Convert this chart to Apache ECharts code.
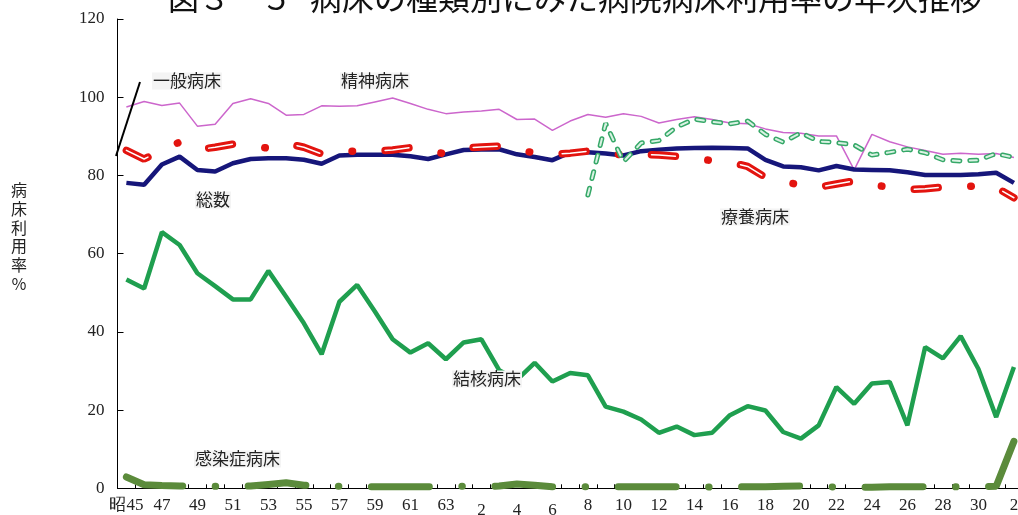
<!DOCTYPE html>
<html><head><meta charset="utf-8">
<script src="https://cdn.jsdelivr.net/npm/echarts@6/dist/echarts.min.js"></script>
<style>html,body{margin:0;padding:0;background:#fff}#c{width:1018px;height:515px}</style>
</head><body><div id="c"></div>
<script>
const categories = ['1970','1971','1972','1973','1974','1975','1976','1977','1978','1979',
  '1980','1981','1982','1983','1984','1985','1986','1987','1988','1989',
  '1990','1991','1992','1993','1994','1995','1996','1997','1998','1999',
  '2000','2001','2002','2003','2004','2005','2006','2007','2008','2009',
  '2010','2011','2012','2013','2014','2015','2016','2017','2018','2019','2020'];
const tickLabels = ['昭45','46','47','48','49','50','51','52','53','54',
  '55','56','57','58','59','60','61','62','63','元',
  '2','3','4','5','6','7','8','9','10','11',
  '12','13','14','15','16','17','18','19','20','21',
  '22','23','24','25','26','27','28','29','30','元','2'];
const loweredLabels = [20, 22, 24];

const total = [78.1,77.6,82.8,84.8,81.4,81.0,83.1,84.2,84.4,84.4,
  84.0,83.0,85.1,85.3,85.3,85.3,84.9,84.2,85.4,86.5,
  86.6,86.7,85.4,84.7,83.9,85.9,85.9,85.6,85.1,86.2,
  86.6,86.9,87.0,87.1,87.0,86.9,84.0,82.3,82.1,81.3,
  82.4,81.5,81.4,81.3,80.8,80.1,80.1,80.1,80.3,80.7,78.1];
const general = [86.4,84.2,86.5,88.5,86.6,87.2,88.0,87.5,87.0,88.2,
  87.2,85.5,86.2,86.2,86.2,86.5,87.1,86.0,85.6,87.0,
  87.3,87.5,86.5,85.8,85.4,85.7,86.2,85.8,85.2,85.4,
  85.2,84.9,84.3,83.8,83.4,82.3,79.5,78.2,77.7,77.0,
  77.8,78.6,77.6,77.0,76.4,76.6,77.0,77.1,77.3,76.9,74.3];
const psychiatric = [97.5,98.9,97.9,98.5,92.6,93.1,98.4,99.6,98.4,95.4,
  95.6,97.8,97.7,97.8,98.8,99.8,98.4,96.9,95.8,96.2,
  96.5,96.9,94.3,94.4,91.5,93.9,95.6,94.9,95.8,95.1,
  93.4,94.3,95.0,94.3,93.4,93.2,91.9,91.0,90.8,90.1,
  90.1,81.4,90.5,88.6,87.3,86.4,85.4,85.7,85.4,85.6,84.6];
const longTerm = [null,null,null,null,null,null,null,null,null,null,
  null,null,null,null,null,null,null,null,null,null,
  null,null,null,null,null,null,75.0,93.3,83.5,88.3,
  88.9,92.4,94.4,93.7,93.2,93.9,90.5,88.5,90.9,88.7,
  88.4,87.8,85.2,85.9,86.7,85.8,84.0,83.7,83.9,85.6,84.6];
const tuberculosis = [53.4,51.1,65.5,62.2,55.0,51.7,48.3,48.3,55.6,49.0,
  42.2,34.3,47.7,52.0,45.2,38.1,34.7,37.1,33.0,37.3,
  38.1,30.2,27.7,32.1,27.3,29.5,28.9,20.9,19.6,17.6,
  14.2,15.8,13.6,14.2,18.7,21.0,19.9,14.4,12.7,16.1,
  25.9,21.6,26.8,27.2,16.1,36.1,33.2,38.9,30.5,18.2,31.0];
const infectious = [2.9,0.9,0.7,0.6,0.5,0.5,0.4,0.6,1.0,1.4,
  0.8,0.5,0.5,0.4,0.4,0.4,0.4,0.4,0.5,0.5,
  0.4,0.6,1.1,0.8,0.4,0.4,0.4,0.4,0.4,0.4,
  0.4,0.4,0.4,0.3,0.3,0.4,0.4,0.5,0.6,0.5,
  0.3,0.3,0.3,0.4,0.4,0.4,0.3,0.4,0.4,0.5,12.0];

const CJK = "'Noto Sans CJK JP', 'Noto Sans', sans-serif";
const NUM = "'Liberation Serif', serif";

function label(text, x, y, size) {
  return { type: 'text', x: x, y: y, z: 50,
    style: { text: text, fontFamily: CJK, fontSize: size || 17, fill: '#222',
      align: 'left', verticalAlign: 'middle', backgroundColor: '#f4f4f4', padding: [0, 1] } };
}

const chart = echarts.init(document.getElementById('c'), null, { renderer: 'canvas' });
chart.setOption({
  animation: false,
  backgroundColor: '#fff',
  grid: { left: 117.5, top: 19, width: 905.3, height: 469.3, outerBoundsMode: 'none', containLabel: false },
  xAxis: {
    type: 'category', data: categories, boundaryGap: true,
    axisLine: { show: true, lineStyle: { color: '#000', width: 1 } },
    axisTick: { show: true, inside: true, length: 4, interval: 0, lineStyle: { color: '#000' } },
    axisLabel: {
      interval: 1, margin: 9, color: '#222', fontFamily: NUM, fontSize: 17,
      formatter: function (v, i) {
        return loweredLabels.indexOf(i) >= 0 ? '{lo|' + tickLabels[i] + '}' : '{n|' + tickLabels[i] + '}';
      },
      rich: {
        n: { fontFamily: NUM, fontSize: 17, color: '#222' },
        lo: { fontFamily: NUM, fontSize: 17, color: '#222', padding: [5, 0, 0, 0] }
      }
    },
    splitLine: { show: false }
  },
  yAxis: {
    type: 'value', min: 0, max: 120, interval: 20,
    axisLine: { show: true, lineStyle: { color: '#000', width: 1 } },
    axisTick: { show: true, inside: true, length: 6, lineStyle: { color: '#000' } },
    axisLabel: { margin: 13, color: '#222', fontFamily: NUM, fontSize: 17 },
    splitLine: { show: false }
  },
  series: [
    { name: '精神病床', type: 'line', data: psychiatric, symbol: 'none', z: 2,
      lineStyle: { color: '#cc66cc', width: 1.5 } },
    { name: '総数', type: 'line', data: total, symbol: 'none', z: 3,
      lineStyle: { color: '#16167a', width: 4.5 } },
    { name: '一般病床', type: 'line', data: general, symbol: 'none', z: 4,
      lineStyle: { color: '#e3140f', width: 7.5, type: [24, 32.6, 0.5, 32.6], cap: 'round' } },
    { name: '一般病床_inner', type: 'line', data: general, symbol: 'none', z: 5, silent: true,
      lineStyle: { color: '#ffffff', width: 1.5, type: [24, 65.7], cap: 'round' } },
    { name: '療養病床', type: 'line', data: longTerm, symbol: 'none', z: 6,
      lineStyle: { color: '#36a868', width: 5, type: [7, 10], cap: 'round' } },
    { name: '療養病床_inner', type: 'line', data: longTerm, symbol: 'none', z: 7, silent: true,
      lineStyle: { color: '#d9f2e3', width: 2, type: [7, 10], cap: 'round' } },
    { name: '結核病床', type: 'line', data: tuberculosis, symbol: 'none', z: 8,
      lineStyle: { color: '#1f9f4f', width: 4.5 } },
    { name: '感染症病床', type: 'line', data: infectious, symbol: 'none', z: 9,
      lineStyle: { color: '#5b8b3b', width: 7, type: [58, 32.5, 0.5, 32.5], cap: 'round' } }
  ],
  graphic: [
    { type: 'text', x: 168, y: -2, z: 50,
      style: { text: '図３－５', fontFamily: CJK, fontSize: 31, fill: '#111', align: 'left', verticalAlign: 'middle' } },
    { type: 'text', x: 310, y: -2, z: 50,
      style: { text: '病床の種類別にみた病院病床利用率の年次推移', fontFamily: CJK, fontSize: 32, fill: '#111', align: 'left', verticalAlign: 'middle' } },
    { type: 'text', x: 19, y: 237, z: 50,
      style: { text: '病\n床\n利\n用\n率\n％', fontFamily: CJK, fontSize: 16, lineHeight: 18.7, fill: '#222', align: 'center', verticalAlign: 'middle' } },
    { type: 'line', z: 50, shape: { x1: 116, y1: 156, x2: 140, y2: 82 },
      style: { stroke: '#000', lineWidth: 2 } },
    label('一般病床', 152, 81),
    label('精神病床', 340, 81),
    label('総数', 195, 200),
    label('療養病床', 720, 217),
    label('結核病床', 452, 379),
    label('感染症病床', 194, 459)
  ]
});
</script>
</body></html>
